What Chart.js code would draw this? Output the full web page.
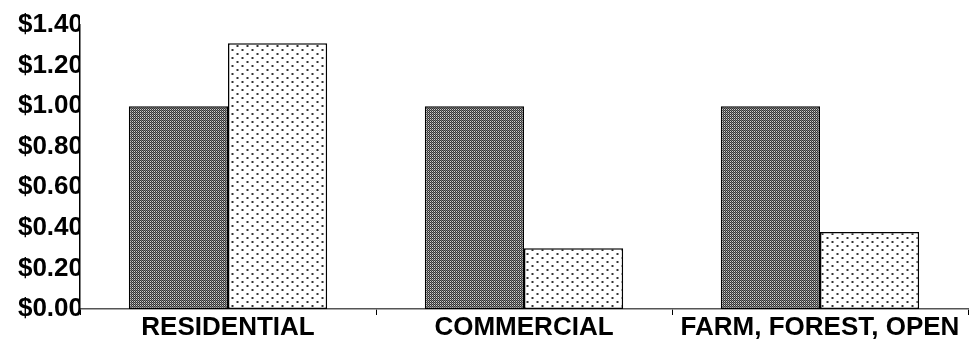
<!DOCTYPE html>
<html>
<head>
<meta charset="utf-8">
<script src="https://cdn.jsdelivr.net/npm/chart.js@4/dist/chart.umd.min.js"></script>
<style>
  html, body { margin: 0; padding: 0; background: #fff; }
  #wrap { width: 970px; height: 342px; position: relative; }
</style>
</head>
<body>
<div id="wrap"><canvas id="c" width="970" height="342"></canvas></div>
<script>
const categories = ["RESIDENTIAL", "COMMERCIAL", "FARM, FOREST, OPEN"];
const revenueValues = [1.00, 1.00, 1.00];
const costValues = [1.31, 0.30, 0.38];
const yTickMax = 1.4;
const yTickStep = 0.2;

function makeDarkPattern() {
  const p = document.createElement('canvas');
  p.width = 4; p.height = 4;
  const g = p.getContext('2d');
  g.fillStyle = '#7a7a7a'; g.fillRect(0, 0, 4, 4);
  for (let y = 0; y < 4; y++) for (let x = 0; x < 4; x++) {
    if ((x + y) % 2 === 0) { g.fillStyle = '#333333'; g.fillRect(x, y, 1, 1); }
    else if (x % 2 === 0) { g.fillStyle = '#d0d0d0'; g.fillRect(x, y, 1, 1); }
  }
  return g.createPattern(p, 'repeat');
}
function makeLightPattern() {
  const p = document.createElement('canvas');
  p.width = 10; p.height = 8;
  const g = p.getContext('2d');
  g.fillStyle = '#ffffff'; g.fillRect(0, 0, 10, 8);
  g.fillStyle = '#9a9a9a'; g.fillRect(1, 1, 3, 2);
  g.fillStyle = '#333333'; g.fillRect(2, 1, 1, 2);
  g.fillStyle = '#9a9a9a'; g.fillRect(6, 5, 3, 2);
  g.fillStyle = '#333333'; g.fillRect(7, 5, 1, 2);
  return g.createPattern(p, 'repeat');
}

const xFont = { family: "'Liberation Sans', Arial, sans-serif", size: 26, weight: 'bold' };
const yFont = { family: "'Liberation Sans', Arial, sans-serif", size: 26, weight: 'bold' };

new Chart(document.getElementById('c'), {
  type: 'bar',
  data: {
    labels: categories,
    datasets: [
      { data: revenueValues, backgroundColor: makeDarkPattern(), borderColor: '#000', borderWidth: 1.5, borderSkipped: false,
        categoryPercentage: 0.67, barPercentage: 1.0 },
      { data: costValues, backgroundColor: makeLightPattern(), borderColor: '#000', borderWidth: 1.5, borderSkipped: false,
        categoryPercentage: 0.67, barPercentage: 1.0 }
    ]
  },
  options: {
    responsive: false,
    animation: false,
    devicePixelRatio: 1,
    layout: { padding: { top: 25, right: 2, left: 0, bottom: 0 } },
    plugins: { legend: { display: false }, tooltip: { enabled: false } },
    scales: {
      x: {
        grid: { display: true, drawOnChartArea: false, drawTicks: true, tickLength: 6, color: '#000', offset: true },
        border: { display: true, color: '#555', width: 1.5 },
        ticks: { color: '#000', font: xFont, maxRotation: 0, minRotation: 0, autoSkip: false, padding: -3 },
        afterFit: s => { s.height = 33; }
      },
      y: {
        min: 0, max: yTickMax,
        grid: { display: false, drawTicks: false },
        border: { display: true, color: '#000', width: 1.5 },
        ticks: {
          stepSize: yTickStep, color: '#000', font: yFont, padding: -3,
          callback: v => '$' + Number(v).toFixed(2)
        },
        afterFit: s => { s.width = 80; }
      }
    }
  }
});
</script>
</body>
</html>
